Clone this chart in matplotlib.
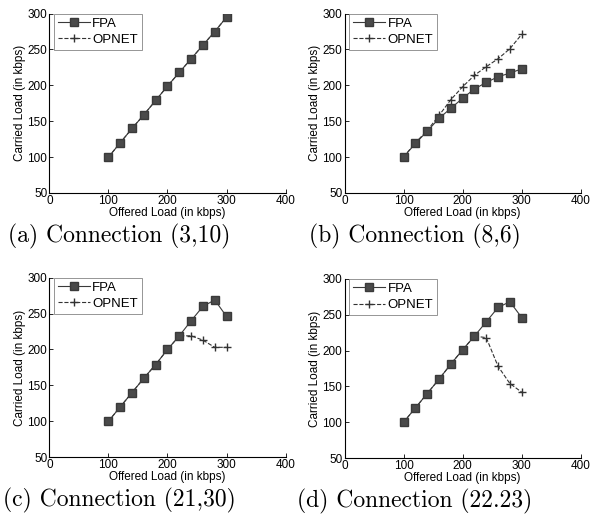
import numpy as np
import matplotlib.pyplot as plt

offered = [100, 120, 140, 160, 180, 200, 220, 240, 260, 280, 300]

fpa_a = [100, 120, 140, 159, 179, 199, 218, 237, 256, 275, 295]
opnet_a = [100, 120, 140, 159, 179, 199, 218, 237, 256, 275, 295]

fpa_b = [100, 119, 136, 154, 168, 182, 195, 204, 212, 217, 223]
opnet_b = [100, 120, 137, 158, 180, 198, 214, 226, 237, 251, 271]

fpa_c = [100, 120, 140, 160, 179, 200, 219, 240, 260, 269, 246]
opnet_c = [100, 120, 140, 160, 179, 200, 219, 219, 213, 203, 203]

fpa_d = [100, 120, 140, 160, 181, 201, 220, 240, 260, 268, 246]
opnet_d = [100, 120, 140, 160, 181, 201, 220, 218, 178, 154, 142]

captions = ['(a) Connection (3,10)', '(b) Connection (8,6)',
            '(c) Connection (21,30)', '(d) Connection (22.23)']
panels = [(fpa_a, opnet_a), (fpa_b, opnet_b), (fpa_c, opnet_c), (fpa_d, opnet_d)]

plt.rcParams['font.family'] = ['Liberation Sans', 'DejaVu Sans']

fig = plt.figure(figsize=(5.95, 5.23), dpi=100)
lefts = [0.083, 0.579, 0.083, 0.579]
bottoms = [0.631, 0.631, 0.126, 0.124]

for i, (fpa, opnet) in enumerate(panels):
    ax = fig.add_axes([lefts[i], bottoms[i], 0.397, 0.343])
    ax.plot(offered, opnet, linestyle='--', color='#333333', linewidth=0.8,
            marker='+', markersize=6, markeredgewidth=1.0, label='OPNET')
    ax.plot(offered, fpa, linestyle='-', color='#3a3a3a', linewidth=0.8,
            marker='s', markersize=6, markerfacecolor='#4a4a4a',
            markeredgecolor='#3a3a3a', label='FPA')
    h, l = ax.get_legend_handles_labels()
    leg = ax.legend(h[::-1], l[::-1], loc='upper left', fontsize=9.5,
                    bbox_to_anchor=(0.02, 1.0), borderaxespad=0.0,
                    frameon=True, fancybox=False,
                    handlelength=2.4, handletextpad=0.2, borderpad=0.3,
                    labelspacing=0.3)
    leg.get_frame().set_edgecolor('#666666')
    leg.get_frame().set_linewidth(0.6)
    ax.set_xlim(0, 400)
    ax.set_ylim(50, 300)
    ax.set_xticks([0, 100, 200, 300, 400])
    ax.set_yticks([50, 100, 150, 200, 250, 300])
    ax.spines['top'].set_visible(False)
    ax.spines['right'].set_visible(False)
    ax.spines['left'].set_linewidth(0.8)
    ax.spines['bottom'].set_linewidth(0.8)
    ax.tick_params(direction='in', length=3, width=0.6, labelsize=8.5, pad=1.5)
    ax.set_xlabel('Offered Load (in kbps)', fontsize=8.5, labelpad=0)
    ax.set_ylabel('Carried Load (in kbps)', fontsize=8.5, labelpad=1)
    # subfigure caption under each panel
    pos = ax.get_position()
    fig.text(pos.x0 + 0.118, pos.y0 - 0.083, captions[i], fontsize=17,
             family='cmr10', ha='center', va='center')

plt.savefig('out.png', dpi=100)
